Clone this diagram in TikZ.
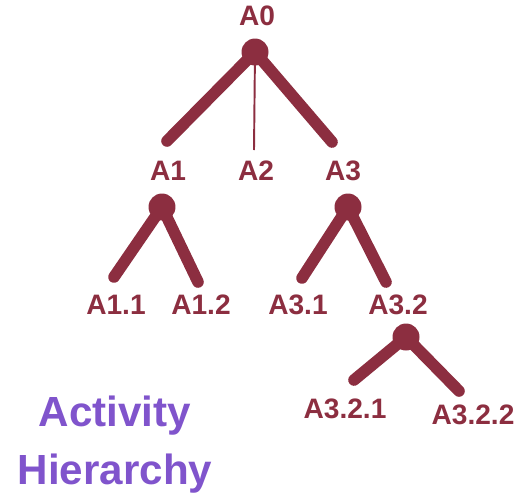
\documentclass[tikz,border=0pt]{standalone}
\usepackage{fontspec}
\setmainfont{Liberation Sans}
\usetikzlibrary{positioning}
\definecolor{actred}{RGB}{140,46,64}
\definecolor{titlepurple}{RGB}{128,84,204}

\begin{document}
\begin{tikzpicture}[x=0.02cm, y=-0.02cm, semithick]
	\tikzstyle{act}=[text=actred, font=\bfseries\fontsize{16}{18}\selectfont, inner sep=0pt]
	\tikzstyle{hub}=[circle, fill=actred, minimum size=0.54cm, inner sep=0pt]
	\tikzstyle{branch}=[draw=actred, line width=6.6pt, line cap=round]
	\useasboundingbox (0,0) rectangle (517,494);
	% labels
	\node[act]    (a0)    at (257,16)   {A0};
	\node[act]    (a1)    at (168,171)  {A1};
	\node[act]    (a2)    at (256,171)  {A2};
	\node[act]    (a3)    at (343,171)  {A3};
	\node[act]    (a11)   at (116,305)  {A1.1};
	\node[act]    (a12)   at (201,305)  {A1.2};
	\node[act]    (a31)   at (298,305)  {A3.1};
	\node[act]    (a32)   at (398,305)  {A3.2};
	\node[act]    (a321)  at (345,409)  {A3.2.1};
	\node[act]    (a322)  at (473,415)  {A3.2.2};
	% hubs
	\node[hub]    (h0)    at (255,52)   {};
	\node[hub]    (h1)    at (162,207)  {};
	\node[hub]    (h3)    at (348,207)  {};
	\node[hub]    (h32)   at (406,337)  {};
	% branch ends
	\coordinate (e1)   at (167,141);
	\coordinate (e2)   at (254,150);
	\coordinate (e3)   at (332,142);
	\coordinate (e11)  at (114,277);
	\coordinate (e12)  at (198,282);
	\coordinate (e31)  at (302,278);
	\coordinate (e32)  at (386,282);
	\coordinate (e321) at (354,380);
	\coordinate (e322) at (459,391);
	\path[branch]
	(h0.center)  -- (e1)
	(h0.center)  -- (e3)
	(h1.center)  -- (e11)
	(h1.center)  -- (e12)
	(h3.center)  -- (e31)
	(h3.center)  -- (e32)
	(h32.center) -- (e321)
	(h32.center) -- (e322);
	\draw[actred, line width=1.1pt] (h0.center) -- (e2);
	% title
	\node[text=titlepurple, font=\bfseries\fontsize{24}{33}\selectfont, align=center, inner sep=0pt]
	(title) at (115,445) {Activity\\Hierarchy};
\end{tikzpicture}
\end{document}
